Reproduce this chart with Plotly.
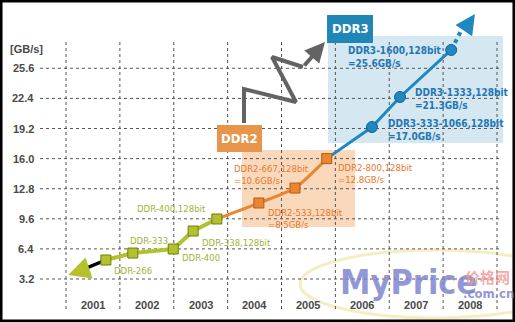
import plotly.graph_objects as go

# ---------------- data ----------------
years = [2001, 2002, 2003, 2004, 2005, 2006, 2007, 2008]
y_ticks = [3.2, 6.4, 9.6, 12.8, 16.0, 19.2, 22.4, 25.6]
y_tick_labels = ["3.2", "6.4", "9.6", "12.8", "16.0", "19.2", "22.4", "25.6"]

ddr_x = [2001.24, 2001.74, 2002.49, 2002.86, 2003.30]
ddr_y = [5.22, 5.96, 6.39, 8.30, 9.58]
ddr_labels = ["DDR-266", "DDR-333", "DDR-400", "DDR-338,128bit", "DDR-400,128bit"]

ddr2_x = [2004.08, 2004.75, 2005.34]
ddr2_y = [11.28, 12.87, 16.0]
ddr2_labels = ["DDR2-533,128bit<br>=8.5GB/s", "DDR2-667,128bit<br>=10.6GB/s",
               "DDR2-800,128bit<br>=12.8GB/s"]

ddr3_x = [2006.18, 2006.70, 2007.65]
ddr3_y = [19.36, 22.55, 27.55]
ddr3_labels = ["DDR3-333-1066,128bit<br>=17.0GB/s", "DDR3-1333,128bit<br>=21.3GB/s",
               "DDR3-1600,128bit<br>=25.6GB/s"]

# trend arrows (start tail / end tips)
start_tail = (2000.74, 4.05)
start_tip = (2000.54, 3.63)
end_dot = (2007.87, 29.99)
end_tip = (2008.09, 31.37)

# decorative zig-zag arrow
zig_x = [2003.804, 2003.804, 2004.769, 2004.324, 2004.899]
zig_y = [19.785, 23.40, 22.02, 26.80, 25.74]
zig_tip = (2005.307, 28.40)

# ---------------- style ----------------
W, H = 515, 322
X_RANGE = [1999.275, 2008.834]
Y_RANGE = [-1.371, 32.862]
GRID_X = [2000.017, 2008.556]
GRID_Y = [0.011, 28.397]

C_DDR = "#b3c22c"
C_DDR_EDGE = "#6f7d12"
C_DDR_TXT = "#a3b236"
C_DDR2 = "#e9862f"
C_DDR2_EDGE = "#b85a12"
C_DDR2_TXT = "#e8782a"
C_DDR3 = "#1f88c0"
C_DDR3_EDGE = "#15628e"
C_DDR3_TXT = "#2477b3"
NARROW = "Liberation Sans Narrow, DejaVu Sans Condensed, Arial Narrow, sans-serif"
BOLD_SANS = "Liberation Sans, Arial, sans-serif"

fig = go.Figure()

shapes = []
# light highlight regions
shapes.append(dict(type="rect", xref="x", yref="y", x0=2003.767, x1=2005.864,
                   y0=8.728, y1=16.915, fillcolor="#fad8bc", line=dict(width=0), layer="below"))
shapes.append(dict(type="rect", xref="x", yref="y", x0=2005.363, x1=2008.611,
                   y0=17.66, y1=29.03, fillcolor="#d5e7f1", line=dict(width=0), layer="below"))
# watermark swoosh
shapes.append(dict(type="circle", xref="paper", yref="paper",
                   x0=300 / W, x1=570 / W, y0=1 - 318 / H, y1=1 - 250 / H,
                   line=dict(color="#f4eec0", width=3), layer="below"))
# grid
for v in y_ticks:
    shapes.append(dict(type="line", xref="x", yref="y", x0=GRID_X[0], x1=GRID_X[1], y0=v, y1=v,
                       line=dict(color="#555555", width=1, dash="dot"), layer="below"))
for yr in years + [years[0] - 1]:
    xv = yr + 0.5
    shapes.append(dict(type="line", xref="x", yref="y", x0=xv, x1=xv, y0=GRID_Y[0], y1=GRID_Y[1],
                       line=dict(color="#555555", width=1, dash="dot"), layer="below"))
# generation boxes
box2 = dict(x0=2003.303, x1=2004.138, y0=16.70, y1=19.57)
box3 = dict(x0=2005.345, x1=2006.198, y0=28.29, y1=31.27)
shapes.append(dict(type="rect", xref="x", yref="y", **box2, fillcolor="#e8954c", line=dict(width=0)))
shapes.append(dict(type="rect", xref="x", yref="y", **box3, fillcolor="#1f86b8", line=dict(width=0)))
# border
shapes.append(dict(type="rect", xref="paper", yref="paper", x0=0.002, x1=0.998, y0=0.003, y1=0.997,
                   line=dict(color="#000000", width=3)))

# ---------------- traces ----------------
fig.add_trace(go.Scatter(x=zig_x, y=zig_y, mode="lines",
                         line=dict(color="#636363", width=4), hoverinfo="skip"))
fig.add_trace(go.Scatter(x=[start_tail[0], ddr_x[0]], y=[start_tail[1], ddr_y[0]], mode="lines",
                         line=dict(color="#000000", width=3.5), hoverinfo="skip"))
fig.add_trace(go.Scatter(x=[ddr_x[-1]] + ddr2_x, y=[ddr_y[-1]] + ddr2_y, mode="lines",
                         line=dict(color=C_DDR2, width=3, shape="spline", smoothing=0.6),
                         hoverinfo="skip"))
fig.add_trace(go.Scatter(x=[ddr2_x[-1]] + ddr3_x, y=[ddr2_y[-1]] + ddr3_y, mode="lines",
                         line=dict(color=C_DDR3, width=3), hoverinfo="skip"))
fig.add_trace(go.Scatter(x=[ddr3_x[-1], end_dot[0]], y=[ddr3_y[-1], end_dot[1]], mode="lines",
                         line=dict(color=C_DDR3, width=4, dash="dot"), hoverinfo="skip"))
fig.add_trace(go.Scatter(x=ddr_x, y=ddr_y, mode="lines+markers",
                         line=dict(color=C_DDR, width=4),
                         marker=dict(symbol="square", size=10, color=C_DDR,
                                     line=dict(color=C_DDR_EDGE, width=1))))
fig.add_trace(go.Scatter(x=ddr2_x, y=ddr2_y, mode="markers",
                         marker=dict(symbol="square", size=10, color=C_DDR2,
                                     line=dict(color=C_DDR2_EDGE, width=1))))
fig.add_trace(go.Scatter(x=ddr3_x, y=ddr3_y, mode="markers",
                         marker=dict(symbol="circle", size=11, color=C_DDR3,
                                     line=dict(color=C_DDR3_EDGE, width=1))))

# ---------------- annotations ----------------
ann = []
# arrows
ann.append(dict(x=start_tip[0], y=start_tip[1], ax=15, ay=-5, xref="x", yref="y", text="",
                showarrow=True, arrowhead=2, arrowsize=1.1, arrowwidth=4, arrowcolor=C_DDR, standoff=0))
ann.append(dict(x=end_tip[0], y=end_tip[1], ax=-10, ay=15, xref="x", yref="y", text="",
                showarrow=True, arrowhead=2, arrowsize=1.0, arrowwidth=4, arrowcolor=C_DDR3, standoff=0))
ann.append(dict(x=zig_tip[0], y=zig_tip[1], ax=-22, ay=25, xref="x", yref="y", text="",
                showarrow=True, arrowhead=2, arrowsize=1.0, arrowwidth=4, arrowcolor="#636363", standoff=0))

# y tick labels
for v, t in zip(y_ticks, y_tick_labels):
    ann.append(dict(x=GRID_X[0], y=v, xref="x", yref="y", text="<b>%s</b>" % t, showarrow=False,
                    xanchor="right", yanchor="middle", xshift=-4,
                    font=dict(family=BOLD_SANS, size=11, color="#4a4a4a")))
# year labels
for yr in years:
    ann.append(dict(x=yr, y=GRID_Y[0], xref="x", yref="y", text="<b>%d</b>" % yr, showarrow=False,
                    xanchor="center", yanchor="middle", yshift=4,
                    font=dict(family=BOLD_SANS, size=11, color="#4a4a4a")))
ann.append(dict(x=8 / W, y=1 - 49 / H, xref="paper", yref="paper", text="<b>[GB/s]</b>",
                showarrow=False, xanchor="left", yanchor="middle",
                font=dict(family=BOLD_SANS, size=11, color="#4a4a4a")))

# point labels (offsets in px)
ddr_off = [(6, -10), (-5, 13), (7, -8), (7, -11), (-9, 10)]
for x, y, t, (dx, dy), i in zip(ddr_x, ddr_y, ddr_labels, ddr_off, range(5)):
    ann.append(dict(x=x, y=y, xref="x", yref="y", text=t, showarrow=False,
                    xanchor="right" if i == 4 else "left", yanchor="middle",
                    xshift=dx, yshift=dy, font=dict(family=NARROW, size=9.5, color=C_DDR_TXT)))
ddr2_off = [(7, -15), (-63, 14), (9, -15)]
for x, y, t, (dx, dy) in zip(ddr2_x, ddr2_y, ddr2_labels, ddr2_off):
    ann.append(dict(x=x, y=y, xref="x", yref="y", text=t, showarrow=False, align="left",
                    xanchor="left", yanchor="middle", xshift=dx, yshift=dy,
                    font=dict(family=NARROW, size=9.5, color=C_DDR2_TXT)))
ddr3_off = [(14, -3), (13, -2), (-105, -7)]
for x, y, t, (dx, dy) in zip(ddr3_x, ddr3_y, ddr3_labels, ddr3_off):
    ann.append(dict(x=x, y=y, xref="x", yref="y", text="<b>" + t.replace("<br>", "</b><br><b>") + "</b>",
                    showarrow=False, align="left",
                    xanchor="left", yanchor="middle", xshift=dx, yshift=dy,
                    font=dict(family=NARROW, size=10, color=C_DDR3_TXT)))

# generation box titles
for b, t in ((box2, "DDR2"), (box3, "DDR3")):
    ann.append(dict(x=(b["x0"] + b["x1"]) / 2, y=(b["y0"] + b["y1"]) / 2, xref="x", yref="y",
                    text="<b>%s</b>" % t, showarrow=False, xanchor="center", yanchor="middle",
                    font=dict(family=NARROW, size=13, color="#ffffff")))

# watermark
ann.append(dict(x=338 / W, y=1 - 282 / H, xref="paper", yref="paper", text="<b>MyPrice</b>",
                showarrow=False, xanchor="left", yanchor="middle",
                font=dict(family=NARROW, size=34, color="rgba(128,132,206,0.85)")))
ann.append(dict(x=463 / W, y=1 - 276 / H, xref="paper", yref="paper", text="<b>价格网</b>",
                showarrow=False, xanchor="left", yanchor="middle",
                font=dict(family="Noto Sans CJK SC", size=15, color="rgba(240,150,150,0.8)")))
ann.append(dict(x=461 / W, y=1 - 293 / H, xref="paper", yref="paper", text="<b>.com.cn</b>",
                showarrow=False, xanchor="left", yanchor="middle",
                font=dict(family=NARROW, size=13, color="rgba(128,132,206,0.85)")))

fig.update_layout(
    width=W, height=H, margin=dict(l=0, r=0, t=0, b=0),
    paper_bgcolor="#ffffff", plot_bgcolor="#ffffff", showlegend=False,
    xaxis=dict(range=X_RANGE, visible=False, fixedrange=True),
    yaxis=dict(range=Y_RANGE, visible=False, fixedrange=True),
    shapes=shapes, annotations=ann,
)

fig.write_html("out.html")
